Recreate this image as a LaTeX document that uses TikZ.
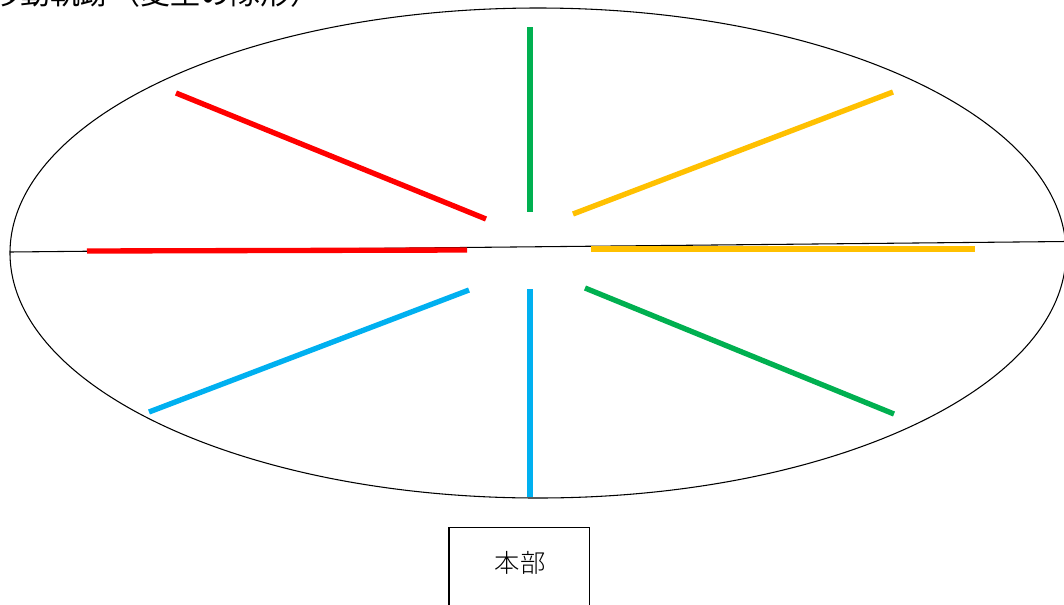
\documentclass[tikz,border=0pt]{standalone}
\usepackage{fontspec}
\newfontfamily\jpfont{Noto Sans CJK JP}
\newfontfamily\jplight{Noto Sans CJK JP Light}
\definecolor{mred}{HTML}{FF0000}
\definecolor{mgreen}{HTML}{00B050}
\definecolor{myellow}{HTML}{FFC000}
\definecolor{mblue}{HTML}{00B0F0}
\tikzset{
  bar/.style={line width=4pt},
  thin/.style={line width=0.8pt, draw=black}
}
\begin{document}
\begin{tikzpicture}[x=0.75pt,y=-0.75pt]
\useasboundingbox (0,0) rectangle (1064,604);
% title (cut at top, as in the reference)
\node[anchor=base west, inner sep=0pt, font=\jpfont\fontsize{22.5pt}{26pt}\selectfont] (title) at (-10,4) {移動軌跡（変型の隊形）};
% ellipse
\draw[thin] (538,253) ellipse [x radius=528, y radius=245];
\coordinate (hl) at (10,252);
\coordinate (hr) at (1066,241.5);
\draw[thin] (hl) -- (hr);
% bars
\coordinate (g1a) at (530,27);  \coordinate (g1b) at (530,212);
\coordinate (r1a) at (176,93);  \coordinate (r1b) at (486,219);
\coordinate (y1a) at (573,214); \coordinate (y1b) at (893,92);
\coordinate (r2a) at (87,251);  \coordinate (r2b) at (467,250);
\coordinate (y2a) at (591,249); \coordinate (y2b) at (975,249);
\coordinate (b1a) at (149,412); \coordinate (b1b) at (469,290);
\coordinate (b2a) at (530,289); \coordinate (b2b) at (530,497);
\coordinate (g2a) at (585,288); \coordinate (g2b) at (894,414);
\draw[bar, mgreen] (g1a) -- (g1b);
\draw[bar, mred] (r1a) -- (r1b);
\draw[bar, myellow] (y1a) -- (y1b);
\draw[bar, mred] (r2a) -- (r2b);
\draw[bar, myellow] (y2a) -- (y2b);
\draw[bar, mblue] (b1a) -- (b1b);
\draw[bar, mblue] (b2a) -- (b2b);
\draw[bar, mgreen] (g2a) -- (g2b);
% headquarters box
\draw[line width=1.3pt] (449,640) -- (449,527.5) -- (589.5,527.5) -- (589.5,640);
\node[inner sep=0pt, font=\jplight\fontsize{19pt}{22pt}\selectfont] (hq) at (520,563) {本部};
\end{tikzpicture}
\end{document}
